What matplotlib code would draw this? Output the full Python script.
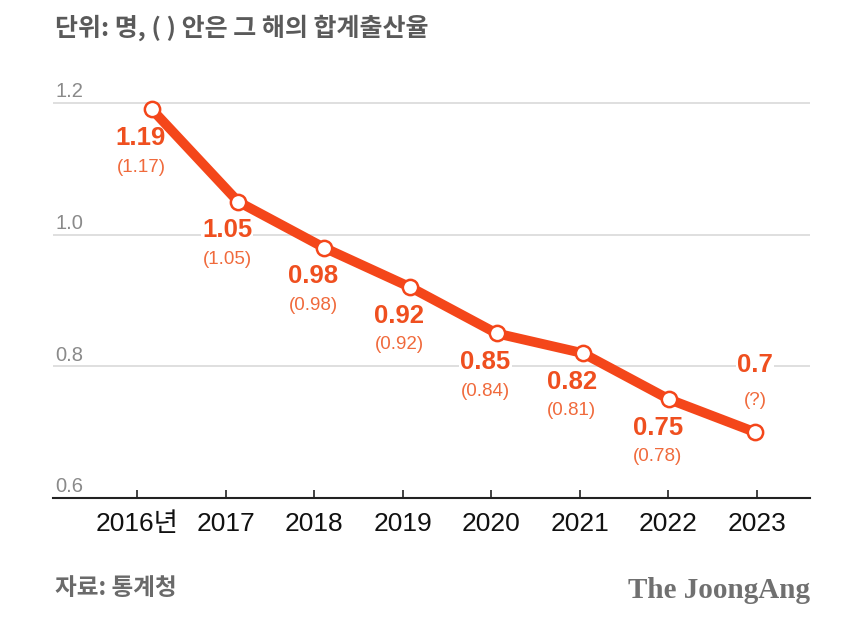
import matplotlib
matplotlib.use('Agg')
import matplotlib.pyplot as plt

# 데이터 (연도별 합계출산율 / 괄호 안 값)
years = ['2016년', '2017', '2018', '2019', '2020', '2021', '2022', '2023']
rates = [1.19, 1.05, 0.98, 0.92, 0.85, 0.82, 0.75, 0.70]
rate_labels = ['1.19', '1.05', '0.98', '0.92', '0.85', '0.82', '0.75', '0.7']
sub_labels = ['(1.17)', '(1.05)', '(0.98)', '(0.92)', '(0.84)', '(0.81)', '(0.78)', '(?)']
y_ticks = [0.6, 0.8, 1.0, 1.2]

LINE = '#F4461A'
TXT = '#EF4F1F'
SUB = '#F06A3C'

plt.rcParams['font.family'] = ['Liberation Sans', 'Noto Sans CJK KR', 'DejaVu Sans']

fig = plt.figure(figsize=(8.5, 6.41), dpi=100)
fig.patch.set_facecolor('white')
ax = fig.add_axes([0.0624, 0.2231, 0.8906, 0.6521])

# 눈금 축 (연도 라벨)
x = list(range(len(years)))
ax.set_xlim(-0.948, 7.599)
ax.set_ylim(0.6, 1.2348)
ax.set_xticks(x)
ax.set_xticklabels(years, fontsize=19, color='#111111')
ax.set_yticks(y_ticks)
ax.set_yticklabels([])
ax.tick_params(axis='x', direction='in', length=6, width=1.2, color='#222222', pad=10)
ax.tick_params(axis='y', length=0)
ax.grid(axis='y', color='#d6d6d6', linewidth=1.1)
ax.set_axisbelow(True)
for s in ['top', 'right', 'left']:
    ax.spines[s].set_visible(False)
ax.spines['bottom'].set_color('#222222')
ax.spines['bottom'].set_linewidth(1.5)

# y 라벨은 격자선 위에 왼쪽 정렬
for v in y_ticks:
    ax.annotate(f'{v:.1f}', xy=(0.003, v), xycoords=('axes fraction', 'data'),
                xytext=(0, 4), textcoords='offset points',
                ha='left', va='baseline', fontsize=14.5, color='#8a8a8a')

# 선 그래프 (점 위치가 눈금과 약간 다름)
ax2 = ax.twiny()
ax2.set_xlim(-1.149, 7.639)
ax2.set_xticks([])
for s in ax2.spines.values():
    s.set_visible(False)
ax2.plot(x, rates, color=LINE, linewidth=7, solid_capstyle='round', zorder=4,
         marker='o', markersize=11, markerfacecolor='white',
         markeredgecolor=LINE, markeredgewidth=1.8)

for i, (r, lab, sub) in enumerate(zip(rates, rate_labels, sub_labels)):
    if i == len(rates) - 1:
        dx, dy1, dy2 = 0, 48, 23
    else:
        dx, dy1, dy2 = -8, -20.5, -41.5
    ax2.annotate(lab, xy=(i, r), xytext=(dx, dy1), textcoords='offset points',
                 ha='center', va='center', fontsize=18.5, fontweight='bold', color=TXT,
                 bbox=dict(facecolor='white', edgecolor='none', pad=1), zorder=3)
    ax2.annotate(sub, xy=(i, r), xytext=(dx, dy2), textcoords='offset points',
                 ha='center', va='center', fontsize=13.5, color=SUB, zorder=3)

fig.text(55 / 850, 1 - 28 / 641, '단위: 명, ( ) 안은 그 해의 합계출산율',
         family=['Noto Sans CJK KR', 'DejaVu Sans'], fontsize=18, fontweight='bold',
         color='#5a5a5a', ha='left', va='center')
fig.text(55 / 850, 1 - 588 / 641, '자료: 통계청',
         family=['Noto Sans CJK KR', 'DejaVu Sans'], fontsize=17, fontweight='bold',
         color='#6a6a6a', ha='left', va='center')
fig.text(810 / 850, 1 - 590 / 641, 'The JoongAng',
         family=['Liberation Serif', 'DejaVu Serif'], fontsize=21, fontweight='bold',
         color='#707070', ha='right', va='center')

fig.savefig('out.png', dpi=100, facecolor='white')
